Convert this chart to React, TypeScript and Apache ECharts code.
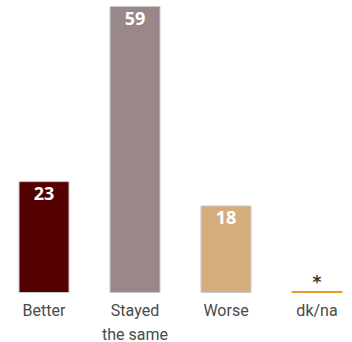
import React, { useEffect, useRef } from "react";
import * as echarts from "echarts";

const categories = ["Better", "Stayed\nthe same", "Worse", "dk/na"];
const values = [23, 59, 18, 0.4];
const labels = ["23", "59", "18", "*"];
const colors = ["#540000", "#9a878a", "#d3ae7c", "#f2962b"];

export default function App() {
  const ref = useRef<HTMLDivElement>(null);
  useEffect(() => {
    if (!ref.current) return;
    const chart = echarts.init(ref.current, null, { renderer: "svg" });
    chart.setOption({
      animation: false,
      grid: { left: -1.5, right: -10.5, top: 6, bottom: 49, containLabel: false, outerBoundsMode: "none" },
      xAxis: {
        type: "category",
        data: categories,
        axisLine: { show: false },
        axisTick: { show: false },
        axisLabel: {
          interval: 0,
          hideOverlap: false,
          color: "#4a4a4a",
          fontSize: 16,
          fontFamily: "Roboto, sans-serif",
          lineHeight: 24,
          margin: 5,
        },
      },
      yAxis: { type: "value", min: 0, max: 59, show: false, splitLine: { show: false } },
      series: [
        {
          type: "bar",
          barWidth: 51,
          data: values.map((v, i) => ({
            value: v,
            itemStyle: {
              color: colors[i],
              borderColor: i === 3 ? colors[i] : "#c9c9c9",
              borderWidth: i === 3 ? 0 : 1,
            },
            label:
              i === 3
                ? {
                    show: true,
                    position: "top",
                    distance: 1,
                    formatter: labels[i],
                    color: "#333",
                    fontSize: 17,
                    fontWeight: "bold",
                    fontFamily: "DejaVu Sans, sans-serif",
                  }
                : {
                    show: true,
                    position: "insideTop",
                    distance: 3,
                    formatter: labels[i],
                    color: "#fff",
                    fontSize: 18,
                    fontWeight: "bold",
                    fontFamily: "Open Sans, sans-serif",
                  },
          })),
        },
      ],
    });
    return () => chart.dispose();
  }, []);
  return <div ref={ref} style={{ width: 352, height: 342, position: "absolute", left: 0, top: 0 }} />;
}
